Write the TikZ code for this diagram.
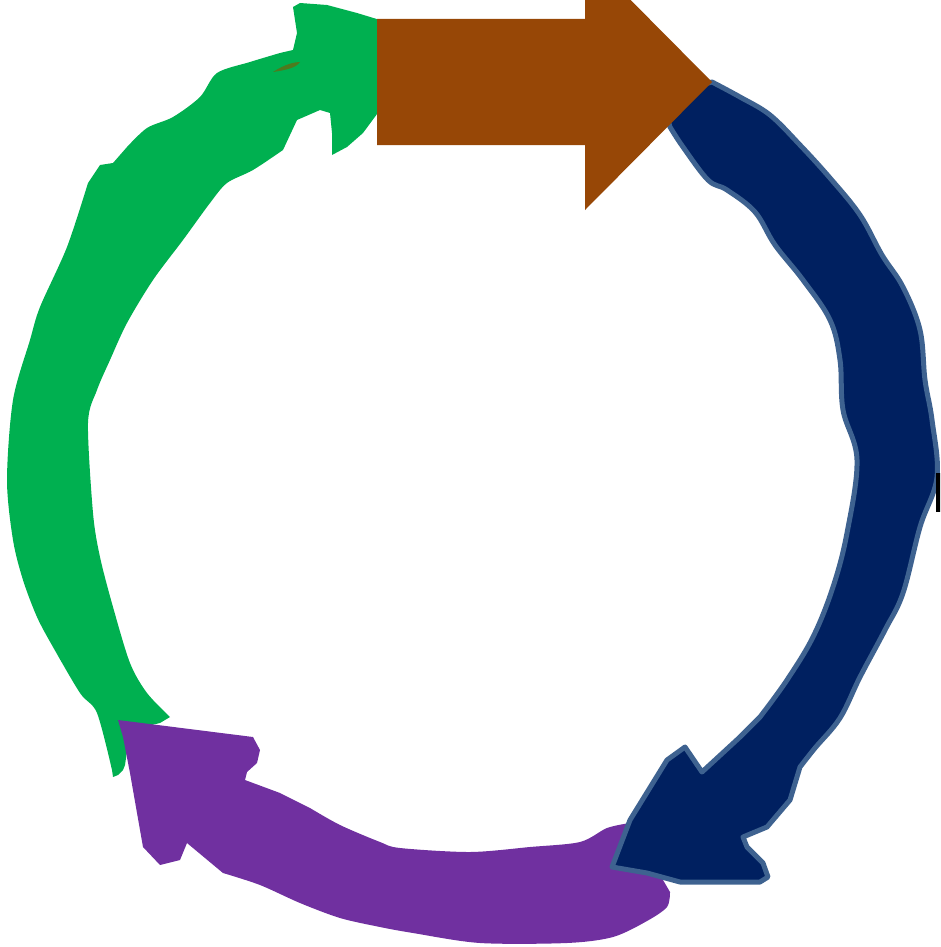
\documentclass[tikz,border=0pt]{standalone}
\definecolor{cgreen}{HTML}{00B050}
\definecolor{cbrown}{HTML}{974706}
\definecolor{cnavy}{HTML}{002060}
\definecolor{cedge}{HTML}{3E6290}
\definecolor{cpurple}{HTML}{7030A0}
\definecolor{colive}{HTML}{4E7A1E}
\tikzset{
  greenarrow/.style={fill=cgreen},
  purplearrow/.style={fill=cpurple},
  bluearrow/.style={fill=cnavy,draw=cedge,line width=5pt,line join=round},
  brownarrow/.style={fill=cbrown},
}
\begin{document}
\begin{tikzpicture}[x=1pt,y=-1pt]
\useasboundingbox (0,0) rectangle (940,947);
\clip (0,0) rectangle (940,947);
% green arrow (left, pointing up-right)
\path[greenarrow] (113,777)
  -- plot[smooth,tension=0.5] coordinates {(112,770) (97,713) (80,693) (53,647) (37,617) (23,580) (13,540) (7,480) (13,400) (30,340) (40,307) (67,247) (88,183)}
  -- (100,165) -- (113,163)
  -- plot[smooth,tension=0.5] coordinates {(127,147) (147,128) (173,117) (200,97) (217,73) (250,62) (280,53)}
  -- (293,50) -- (297,33) -- (293,7) -- (300,3) -- (327,5) -- (357,13) -- (380,20)
  -- (380,110) -- (363,133) -- (347,147) -- (332,155) -- (332,133) -- (330,113) -- (320,110) -- (297,120)
  -- plot[smooth,tension=0.5] coordinates {(283,150) (253,170) (227,183) (210,203) (183,240) (153,280) (127,323) (110,360) (97,390) (88,423) (93,513) (100,557) (113,607) (130,663) (147,693) (170,717)}
  -- (160,723) -- (130,730) -- (125,765) -- (123,770) -- (118,775) -- cycle;
\fill[colive] (273,72) .. controls (285,64) and (295,62) .. (300,62) .. controls (296,68) and (286,70) .. (273,72) -- cycle;
% purple arrow (bottom, pointing up-left)
\path[purplearrow] (118,720) -- (253,737) -- (260,750) -- (257,763) -- (247,772) -- (245,780) -- (280,793)
  -- plot[smooth,tension=0.5] coordinates {(310,808) (340,825) (380,842) (400,848) (470,852) (530,847) (580,842) (607,828) (630,823)}
  -- (640,860) -- (663,880)
  -- plot[smooth,tension=0.5] coordinates {(670,892) (667,907) (647,921) (613,937) (567,943) (480,943) (413,933) (380,927) (340,918) (300,903) (260,885) (223,873)}
  -- (187,843) -- (180,860) -- (160,865) -- (143,847) -- (137,813) -- (130,773) -- (123,737) -- cycle;
% blue arrow (right, pointing down-left)
\path[bluearrow] (690,88)
  -- plot[smooth,tension=0.6] coordinates {(712,82) (740,97) (770,115) (800,145) (830,178) (860,215) (882,255) (903,287) (920,330) (925,380) (932,420) (937,477) (920,527) (903,593) (885,630) (860,677) (840,718) (815,748) (800,767)}
  -- (790,800) -- (767,827) -- (743,837) -- (747,847) -- (763,863) -- (768,877) -- (760,882) -- (680,882) -- (647,873) -- (612,867)
  -- (630,820) -- (667,760) -- (685,747) -- (702,772) -- (740,737) -- (760,717)
  -- plot[smooth,tension=0.6] coordinates {(763,713) (787,680) (813,637) (833,587) (847,533) (857,460) (843,410) (840,360) (830,320) (803,280) (775,245) (755,212) (727,190) (708,180) (683,147) (670,127)}
  -- (665,110) -- cycle;
% brown arrow (top, pointing right)
\path[brownarrow] (377,19) -- (585,19) -- (585,-46) -- (712,82) -- (585,210) -- (585,145) -- (377,145) -- cycle;
% clipped black mark at right edge
\fill[black] (936,473) rectangle (941,512);
\end{tikzpicture}
\end{document}
